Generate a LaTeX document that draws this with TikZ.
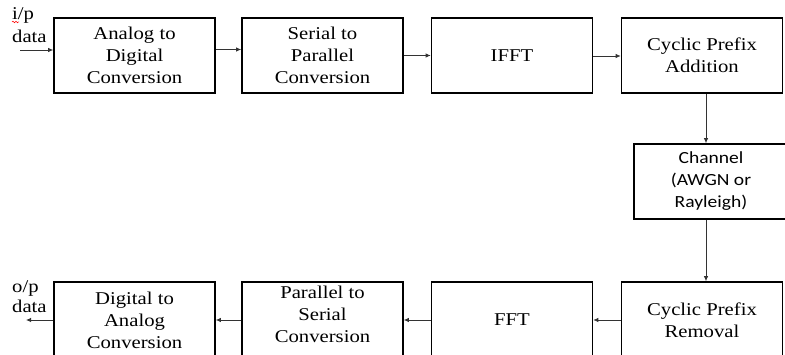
\documentclass[tikz,border=0pt]{standalone}
\usepackage{fontspec}
\setmainfont{Liberation Serif}[FakeStretch=1.15]
\newfontfamily\chanfont{Carlito}[FakeStretch=1.15]
\usetikzlibrary{arrows.meta,decorations.pathmorphing}
\begin{document}
\begin{tikzpicture}[x=1pt,y=-1pt,
  blk/.style={draw=black,line width=1.6pt,minimum width=161pt,minimum height=75pt,
    inner sep=0pt,align=center,font=\fontsize{18}{22}\selectfont},
  arr/.style={draw=black!80,line width=0.8pt,-{Latex[length=5pt,width=4.5pt]}},
  lbl/.style={inner sep=0pt,font=\fontsize{18}{22}\selectfont}]
\useasboundingbox (0,0) rectangle (785,355);
\begin{scope}
\clip (0,0) rectangle (785,355);
% top row
\node[blk] (ad) at (134.5,55.5) {Analog to\\Digital\\Conversion};
\node[blk] (sp) at (322.5,55.5) {Serial to\\Parallel\\Conversion};
\node[blk] (ifft) at (512,55.5) {IFFT};
\node[blk] (cpa) at (702,55.5) {Cyclic Prefix\\Addition};
% channel
\node[blk,minimum width=154pt,font=\chanfont\fontsize{17}{22}\selectfont] (chan) at (711,181.5) {Channel\\(AWGN or\\Rayleigh)};
% bottom row
\node[blk,minimum height=76pt] (cpr) at (702,320) {Cyclic Prefix\\Removal};
\node[blk,minimum height=76pt] (fft) at (512,320) {FFT};
\node[blk,minimum height=76pt] (ps) at (322.5,320) {};
\node[lbl,align=center] (pstxt) at (322.5,314) {Parallel to\\Serial\\Conversion};
\node[blk,minimum height=76pt] (da) at (134.5,320) {Digital to\\Analog\\Conversion};
\end{scope}
% labels
\node[lbl,anchor=base west] (ip) at (12,20) {i/p};
\node[lbl,anchor=base west] (ipd) at (12,43) {data};
\node[lbl,anchor=base west] (op) at (12,293) {o/p};
\node[lbl,anchor=base west] (opd) at (12,313) {data};
\draw[red,line width=0.5pt,decorate,decoration={snake,amplitude=0.8pt,segment length=3pt}]
  ([yshift=-2pt]ip.base west) -- ++(7,0);
% connectors
\coordinate (in) at (20,50);
\coordinate (out) at (26,320);
\draw[arr] (in) -- (in -| ad.west);
\draw[arr] ([yshift=6pt]ad.east) -- ([yshift=6pt]ad.east -| sp.west);
\draw[arr] (sp.east) -- (ifft.west);
\draw[arr] ([yshift=-0.5pt]ifft.east) -- ([yshift=-0.5pt]cpa.west);
\draw[arr] ([xshift=4pt]cpa.south) -- ([xshift=4pt]cpa.south |- chan.north);
\draw[arr] ([xshift=4pt]cpa.south |- chan.south) -- ([xshift=4pt]cpr.north);
\draw[arr] (cpr.west) -- (fft.east);
\draw[arr] (fft.west) -- (ps.east);
\draw[arr] (ps.west) -- (da.east);
\draw[arr] (da.west) -- (out);
\end{tikzpicture}
\end{document}
